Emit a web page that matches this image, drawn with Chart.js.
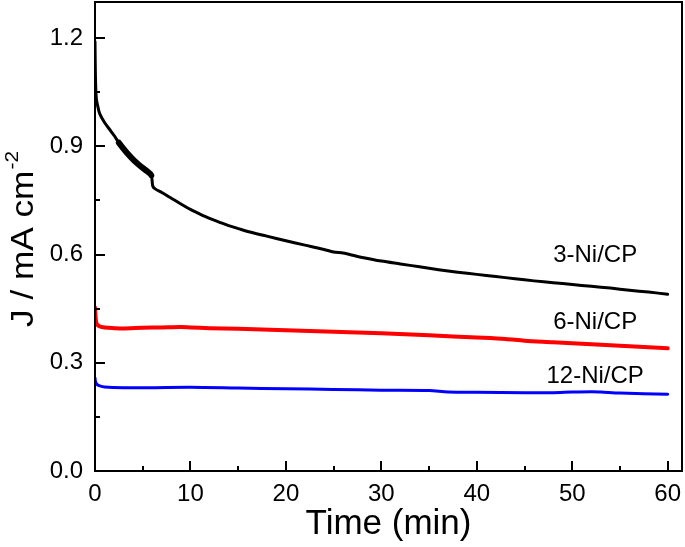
<!DOCTYPE html>
<html>
<head>
<meta charset="utf-8">
<script src="https://cdn.jsdelivr.net/npm/chart.js@4.4.0/dist/chart.umd.min.js"></script>
<style>
  html, body { margin: 0; padding: 0; background: #fff; }
  #wrap { width: 685px; height: 547px; }
</style>
</head>
<body>
<div id="wrap"><canvas id="chart" width="685" height="547"></canvas></div>
<script>
// data (time in min, current density in mA cm-2)
var t3 = [0, 0.03, 0.08, 0.15, 0.3, 0.5, 1, 1.5, 2, 2.5, 3, 3.5, 4, 4.5, 5, 5.5, 5.9, 6.05, 6.3, 7, 8, 9, 10, 11, 12, 13, 14, 15, 16, 18, 20, 22, 24, 25, 26, 27, 28, 30, 32, 34, 36, 38, 40, 42, 44, 46, 48, 50, 52, 54, 56, 58, 60];
var j3 = [1.19, 1.12, 1.06, 1.03, 1.01, 0.99, 0.966, 0.948, 0.93, 0.91, 0.893, 0.877, 0.863, 0.851, 0.84, 0.83, 0.82, 0.79, 0.782, 0.772, 0.756, 0.74, 0.725, 0.712, 0.70, 0.69, 0.68, 0.672, 0.664, 0.651, 0.638, 0.626, 0.614, 0.607, 0.604, 0.598, 0.592, 0.582, 0.574, 0.566, 0.558, 0.551, 0.545, 0.539, 0.533, 0.527, 0.522, 0.517, 0.512, 0.507, 0.501, 0.496, 0.49];

var t6 = [0, 0.05, 0.15, 0.4, 1, 2, 3, 5, 7, 9, 10, 12, 15, 20, 25, 30, 35, 40, 43, 45, 48, 50, 55, 60];
var j6 = [0.453, 0.43, 0.41, 0.402, 0.398, 0.396, 0.395, 0.397, 0.398, 0.399, 0.398, 0.396, 0.394, 0.39, 0.386, 0.382, 0.376, 0.37, 0.366, 0.361, 0.357, 0.354, 0.347, 0.34];

var t12 = [0, 0.05, 0.2, 0.5, 1, 3, 6, 10, 15, 20, 25, 30, 35, 37, 40, 45, 48, 50, 52, 53, 55, 60];
var j12 = [0.258, 0.248, 0.24, 0.236, 0.233, 0.231, 0.231, 0.232, 0.23, 0.228, 0.226, 0.224, 0.223, 0.219, 0.218, 0.217, 0.217, 0.219, 0.22, 0.219, 0.216, 0.213];

var seriesNames = ['3-Ni/CP', '6-Ni/CP', '12-Ni/CP'];
var seriesColors = ['#000000', '#ff0000', '#0000ff'];
// where the curve labels sit (data coordinates)
var labelX = [52.4, 52.4, 52.4];
var labelY = [0.58, 0.394, 0.244];

// tick positions; labelled ones are every second
var xTicks = [0, 5, 10, 15, 20, 25, 30, 35, 40, 45, 50, 55, 60];
var yTicks = [0, 0.15, 0.3, 0.45, 0.6, 0.75, 0.9, 1.05, 1.2];

function pts(xs, ys) {
    return xs.map(function (x, i) { return { x: x, y: ys[i] }; });
}

var FONT = "'Liberation Sans', Arial, sans-serif";

// frame, inward ticks, y title and curve labels
var decor = {
    id: 'decor',
    afterDraw: function (chart) {
        var ctx = chart.ctx;
        var a = chart.chartArea;
        var xs = chart.scales.x, ys = chart.scales.y;
        ctx.save();
        ctx.strokeStyle = '#000';
        ctx.lineWidth = 2;
        ctx.strokeRect(a.left, a.top, a.right - a.left, a.bottom - a.top);

        xTicks.forEach(function (v, i) {
            var len = (i % 2 === 0) ? 10 : 5;
            var px = Math.round(xs.getPixelForValue(v));
            ctx.beginPath();
            ctx.moveTo(px, a.bottom);
            ctx.lineTo(px, a.bottom - len);
            ctx.stroke();
        });
        yTicks.forEach(function (v, i) {
            var len = (i % 2 === 0) ? 10 : 5;
            var py = Math.round(ys.getPixelForValue(v));
            ctx.beginPath();
            ctx.moveTo(a.left, py);
            ctx.lineTo(a.left + len, py);
            ctx.stroke();
        });

        // y axis title with superscript
        ctx.fillStyle = '#000';
        ctx.translate(33, 327);
        ctx.rotate(-Math.PI / 2);
        ctx.scale(1.1, 1);
        ctx.font = '32px ' + FONT;
        ctx.textBaseline = 'alphabetic';
        ctx.textAlign = 'left';
        var main = 'J / mA cm';
        ctx.fillText(main, 0, 0);
        var w = ctx.measureText(main).width;
        ctx.font = '19px ' + FONT;
        ctx.fillText('-2', w + 1, -15);
        ctx.restore();

        // curve labels
        ctx.save();
        ctx.fillStyle = '#000';
        ctx.font = '24px ' + FONT;
        ctx.textAlign = 'center';
        ctx.textBaseline = 'alphabetic';
        seriesNames.forEach(function (n, i) {
            ctx.fillText(n, xs.getPixelForValue(labelX[i]), ys.getPixelForValue(labelY[i]));
        });
        ctx.restore();
    }
};

new Chart('chart', {
    type: 'line',
    data: {
        datasets: [
            {
                label: seriesNames[0], data: pts(t3, j3), borderColor: seriesColors[0], borderWidth: 3,
                // the noisy stretch between 2 and 6 min shows up as a thicker band
                segment: {
                    borderWidth: function (c) {
                        return (c.p0.parsed.x >= 2.4 && c.p1.parsed.x <= 5.9) ? 6 : 3;
                    }
                }
            },
            { label: seriesNames[1], data: pts(t6, j6), borderColor: seriesColors[1], borderWidth: 4 },
            { label: seriesNames[2], data: pts(t12, j12), borderColor: seriesColors[2], borderWidth: 3 }
        ]
    },
    options: {
        responsive: false,
        animation: false,
        devicePixelRatio: 1,
        layout: { padding: { top: 2, right: 3, left: 0, bottom: 0 } },
        elements: {
            point: { radius: 0 },
            line: { tension: 0.3, fill: false, borderJoinStyle: 'round', borderCapStyle: 'round' }
        },
        plugins: {
            legend: { display: false },
            tooltip: { enabled: false }
        },
        scales: {
            x: {
                type: 'linear',
                min: 0,
                max: 61.5,
                afterBuildTicks: function (s) {
                    s.ticks = xTicks.map(function (v) { return { value: v }; });
                },
                afterFit: function (s) {
                    s.height = 76;
                    s.paddingLeft = 0;
                    s.paddingRight = 0;
                },
                grid: { display: false, drawTicks: false },
                border: { display: true, color: '#000', width: 2 },
                ticks: {
                    padding: 9,
                    color: '#000',
                    font: { family: FONT, size: 24 },
                    maxRotation: 0,
                    autoSkip: false,
                    callback: function (v, i) {
                        return (i % 2 === 0) ? String(v) : '';
                    }
                },
                title: {
                    display: true,
                    text: 'Time (min)',
                    color: '#000',
                    font: { family: FONT, size: 35 },
                    padding: { top: 0, bottom: 2 }
                }
            },
            y: {
                type: 'linear',
                min: 0,
                max: 1.3,
                afterBuildTicks: function (s) {
                    s.ticks = yTicks.map(function (v) { return { value: v }; });
                },
                afterFit: function (s) {
                    s.width = 95;
                    s.paddingTop = 0;
                    s.paddingBottom = 0;
                },
                grid: { display: false, drawTicks: false },
                border: { display: true, color: '#000', width: 2 },
                ticks: {
                    padding: 12,
                    color: '#000',
                    font: { family: FONT, size: 24 },
                    autoSkip: false,
                    callback: function (v, i) {
                        return (i % 2 === 0) ? v.toFixed(1) : '';
                    }
                }
            }
        }
    },
    plugins: [decor]
});
</script>
</body>
</html>
